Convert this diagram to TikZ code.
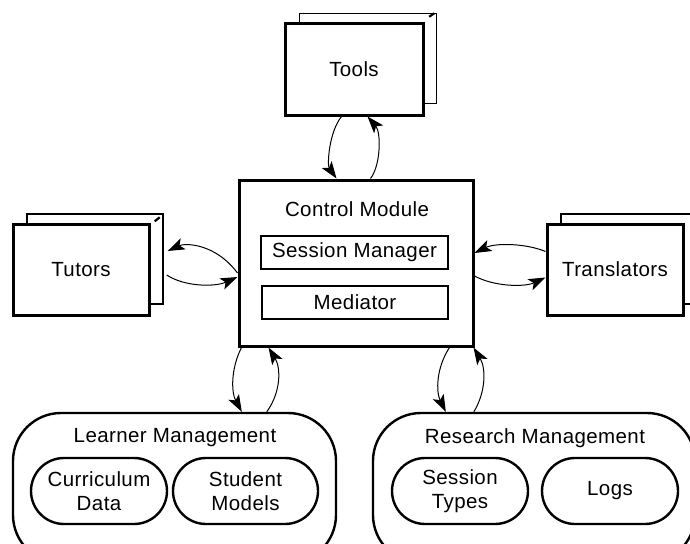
\documentclass[tikz,border=0pt]{standalone}
\usepackage{fontspec}
\setmainfont[LetterSpace=2]{Liberation Sans}
\usetikzlibrary{arrows.meta}
\begin{document}
\begin{tikzpicture}[x=1pt,y=-1pt,
  font=\fontsize{20.5}{24}\selectfont,
  front/.style={draw, line width=3pt, fill=white, inner sep=0pt, minimum width=136pt, minimum height=91pt},
  back/.style={draw, line width=1.4pt, fill=white, inner sep=0pt, minimum width=136pt, minimum height=90pt},
  cornertick/.style={line width=2.2pt},
  inbox/.style={draw, line width=2.4pt, fill=white, inner sep=0pt, minimum width=187pt, minimum height=33pt},
  bigpill/.style={draw, line width=2.4pt, rounded corners=48pt, inner sep=0pt, minimum height=150pt},
  smallpill/.style={draw, line width=2.4pt, rounded corners=33pt, inner sep=0pt, minimum height=66pt, align=center, font=\fontsize{20.5}{24}\selectfont},
  txt/.style={inner sep=0pt},
  arr/.style={line width=1pt, -{Stealth[length=17pt,width=12pt,inset=4pt]}}
]
\useasboundingbox (0,0) rectangle (690,543);
\clip (0,0) rectangle (690,543);

% Tools
\node[back, minimum width=137pt] (toolsb) at (368,58.5) {};
\draw[cornertick] ([xshift=-8pt,yshift=-4pt]toolsb.north east) -- ([xshift=-3pt,yshift=-0.5pt]toolsb.north east);
\node[front, minimum width=138pt] (tools) at (354,69.5) {Tools};

% Tutors
\node[back] (tutorsb) at (95,259) {};
\draw[cornertick] ([xshift=-9pt,yshift=-8pt]tutorsb.north east) -- ([xshift=-4pt,yshift=-4pt]tutorsb.north east);
\node[front] (tutors) at (81,269.5) {Tutors};

% Translators
\node[back] (transb) at (629,259) {};
\node[front] (trans) at (615,269.5) {Translators};

% Control module
\node[draw, line width=3pt, fill=white, minimum width=234pt, minimum height=166pt, inner sep=0pt] (ctrl) at (356,263) {};
\node[txt] (ctrltxt) at (357,209) {Control Module};
\node[inbox] (sm) at (354.5,252.5) {Session Manager};
\node[inbox, minimum width=186pt] (med) at (355,302.5) {Mediator};

% Learner management
\node[bigpill, minimum width=323pt] (lm) at (174.5,488) {};
\node[txt] (lmtxt) at (175,438) {Learner Management};
\node[smallpill, minimum width=136pt] (cur) at (99,491) {Curriculum\\Data};
\node[smallpill, minimum width=145pt] (stu) at (245.5,491) {Student\\Models};

% Research management
\node[bigpill, minimum width=322pt] (rm) at (534,488) {};
\node[txt] (rmtxt) at (535,438) {Research Management};
\node[smallpill, minimum width=136pt] (st) at (460,491) {Session\\Types};
\node[smallpill, minimum width=136pt] (logs) at (610,491) {Logs};

% Tools <-> Control
\draw[arr] ([xshift=58pt]tools.south west) .. controls (329,132) and (327,165) .. ([xshift=99pt]ctrl.north west);
\draw[arr] ([xshift=133pt]ctrl.north west) .. controls (381,165) and (381,132) .. ([xshift=84pt]tools.south west);

% Tutors <-> Control
\draw[arr] ([yshift=-10pt]ctrl.west) .. controls (215,243) and (185,243) .. ([xshift=4pt,yshift=8pt]tutorsb.east);
\draw[arr] ([xshift=3pt,yshift=-16pt]tutorsb.east) .. controls (185,287) and (215,287) .. ([yshift=-14pt]ctrl.west);

% Translators <-> Control
\draw[arr] ([yshift=18pt]trans.west) .. controls (525,243) and (495,243) .. ([yshift=10pt]ctrl.east);
\draw[arr] ([yshift=-13pt]ctrl.east) .. controls (495,287) and (525,287) .. ([yshift=-8pt]trans.west);

% Learner <-> Control
\draw[arr] ([xshift=4pt]ctrl.south west) .. controls (231,368) and (231,392) .. ([xshift=230pt]lm.north west);
\draw[arr] ([xshift=255pt]lm.north west) .. controls (281,392) and (281,368) .. ([xshift=31pt]ctrl.south west);

% Research <-> Control
\draw[arr] ([xshift=-25pt]ctrl.south east) .. controls (436,368) and (436,392) .. ([xshift=74pt]rm.north west);
\draw[arr] ([xshift=102pt]rm.north west) .. controls (486,392) and (486,368) .. ([xshift=-1pt]ctrl.south east);
\end{tikzpicture}
\end{document}
